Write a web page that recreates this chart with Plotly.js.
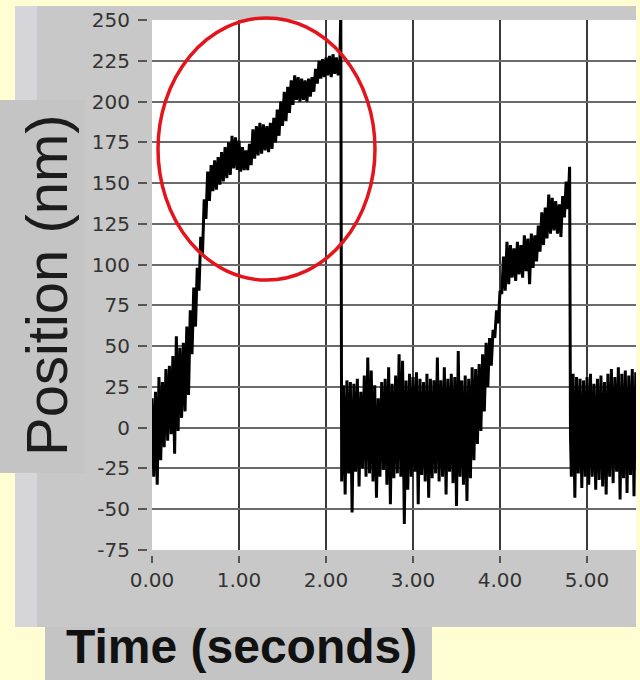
<!DOCTYPE html>
<html><head><meta charset="utf-8">
<script src="https://cdn.plot.ly/plotly-3.0.1.min.js"></script>
<style>html,body{margin:0;padding:0;background:#FFFDD2;}#chart{width:640px;height:680px;}</style>
</head><body><div id="chart"></div>
<script>
// ---- data (time in seconds, position in nm) ----
const time1 = [0.00,0.02,0.04,0.06,0.08,0.10,0.12,0.14,0.16,0.18,
0.20,0.22,0.24,0.26,0.28,0.30,0.32,0.34,0.36,0.38,
0.40,0.42,0.44,0.46,0.48,0.50,0.52,0.54,0.56,0.58,
0.60,0.62,0.64,0.66,0.68,0.70,0.72,0.74,0.76,0.78,
0.80,0.82,0.84,0.86,0.88,0.90,0.92,0.94,0.96,0.98,
1.00,1.02,1.04,1.06,1.08,1.10,1.12,1.14,1.16,1.18,
1.20,1.22,1.24,1.26,1.28,1.30,1.32,1.34,1.36,1.38,
1.40,1.42,1.44,1.46,1.48,1.50,1.52,1.54,1.56,1.58,
1.60,1.62,1.64,1.66,1.68,1.70,1.72,1.74,1.76,1.78,
1.80,1.82,1.84,1.86,1.88,1.90,1.92,1.94,1.96,1.98,
2.00,2.02,2.04,2.06,2.08,2.10,2.12,2.14,2.16,2.17];
const pos1 = [18,-30,22,-35,31,-20,28,-12,36,-8,
38,-4,44,-16,56,-2,49,6,52,10,
62,20,72,45,86,62,98,84,117,106,
140,128,157,139,161,145,164,146,166,149,
169,151,172,153,175,155,179,159,178,158,
176,157,172,158,170,158,174,161,183,165,
185,167,187,168,186,170,185,169,187,171,
190,175,195,179,200,185,206,188,209,193,
213,198,216,201,215,200,214,201,213,200,
214,203,215,206,220,211,225,214,226,215,
227,216,228,215,229,217,227,216,226,256];

const time2 = [2.18,2.20,2.22,2.24,2.26,2.28,2.30,2.32,2.34,2.36,
2.38,2.40,2.42,2.44,2.46,2.48,2.50,2.52,2.54,2.56,
2.58,2.60,2.62,2.64,2.66,2.68,2.70,2.72,2.74,2.76,
2.78,2.80,2.82,2.84,2.86,2.88,2.90,2.92,2.94,2.96,
2.98,3.00,3.02,3.04,3.06,3.08,3.10,3.12,3.14,3.16,
3.18,3.20,3.22,3.24,3.26,3.28,3.30,3.32,3.34,3.36,
3.38,3.40,3.42,3.44,3.46,3.48,3.50,3.52,3.54,3.56,
3.58,3.60,3.62,3.64,3.66,3.68,3.70,3.72,3.74,3.76,
3.78,3.80,3.82,3.84,3.86,3.88,3.90,3.92,3.94,3.96,
3.98,4.00,4.02,4.04,4.06,4.08,4.10,4.12,4.14,4.16,
4.18,4.20,4.22,4.24,4.26,4.28,4.30,4.32,4.34,4.36,
4.38,4.40,4.42,4.44,4.46,4.48,4.50,4.52,4.54,4.56,
4.58,4.60,4.62,4.64,4.66,4.68,4.70,4.72,4.74,4.76,
4.78,4.80];
const pos2 = [-33,26,-41,29,-28,28,-52,27,-27,30,
-36,22,-25,32,-30,43,-28,35,-33,26,
-43,18,-30,28,-26,30,-35,37,-47,27,
-31,32,-28,45,-30,41,-59,29,-38,33,
-30,31,-27,34,-47,30,-29,28,-33,33,
-43,30,-31,29,-28,43,-33,29,-30,37,
-41,30,-27,33,-34,31,-48,47,-30,29,
-35,32,-45,30,-31,37,-20,36,-10,39,
-2,45,10,52,25,55,38,60,55,72,
64,84,82,105,84,114,88,112,92,110,
90,114,94,112,92,118,96,116,88,119,
98,118,102,124,108,132,112,135,116,143,
119,141,121,139,119,137,117,142,129,151,
134,160];

const time3 = [4.81,4.82,4.84,4.86,4.88,4.90,4.92,4.94,4.96,4.98,
5.00,5.02,5.04,5.06,5.08,5.10,5.12,5.14,5.16,5.18,
5.20,5.22,5.24,5.26,5.28,5.30,5.32,5.34,5.36,5.38,
5.40,5.42,5.44,5.46,5.48,5.50,5.52,5.54,5.56];
const pos3 = [-5,-30,33,-43,31,-28,30,-37,29,-30,
31,-35,33,-30,27,-38,30,-32,32,-36,
28,-41,33,-30,36,-34,31,-27,37,-44,
33,-31,35,-40,32,-29,36,-42,34];

const xTickVals = [0,1,2,3,4,5];
const xTickText = ['0.00','1.00','2.00','3.00','4.00','5.00'];
const yTickVals = [-75,-50,-25,0,25,50,75,100,125,150,175,200,225,250];
const yTickText = ['-75','-50','-25','0','25','50','75','100','125','150','175','200','225','250'];
const yTitle = 'Position (nm)';
const xTitle = 'Time (seconds)';

// ---- layout helpers (pixel -> paper) ----
const W = 640, H = 680;
const px = v => v / W;
const py = v => 1 - v / H;

const trace = {
  type: 'scatter', mode: 'lines',
  x: time1.concat(time2, time3),
  y: pos1.concat(pos2, pos3),
  line: {color: '#000000', width: 3},
  hoverinfo: 'skip', cliponaxis: true
};

function rect(x0, y0, x1, y1, color) {
  return {type: 'rect', xref: 'paper', yref: 'paper', x0: px(x0), x1: px(x1), y0: py(y1), y1: py(y0),
          fillcolor: color, line: {width: 0}, layer: 'below'};
}

const layout = {
  width: W, height: H,
  margin: {l: 0, r: 0, t: 0, b: 0},
  paper_bgcolor: '#FFFDD2', plot_bgcolor: '#ffffff',
  showlegend: false,
  xaxis: {
    domain: [px(152), px(636)], range: [0, 5.563],
    anchor: 'free', position: py(555),
    tickmode: 'array', tickvals: xTickVals, ticktext: xTickText,
    ticks: 'outside', ticklen: 7, tickwidth: 2, tickcolor: '#555',
    showgrid: true, gridcolor: '#3a3a3a', gridwidth: 2.5,
    zeroline: false, showline: false,
    tickfont: {family: 'DejaVu Sans', size: 20, color: '#333'},
    fixedrange: true
  },
  yaxis: {
    domain: [py(550), py(20)], range: [-75, 250],
    anchor: 'free', position: px(147),
    tickmode: 'array', tickvals: yTickVals, ticktext: yTickText,
    ticks: 'outside', ticklen: 9, tickwidth: 2, tickcolor: '#555',
    showgrid: true, gridcolor: '#6a6a6a', gridwidth: 2,
    zeroline: false, showline: false,
    tickfont: {family: 'DejaVu Sans', size: 20, color: '#333'},
    ticklabelstandoff: 4,
    fixedrange: true
  },
  shapes: [
    rect(15, 6, 636, 627, '#C8C8C8'),
    rect(15, 6, 37, 627, '#D6D6DA'),
    rect(0, 100, 85, 473, '#C4C4C4'),
    rect(45, 627, 432, 680, '#C4C4C4'),
    rect(152, 20, 636, 550, '#FFFFFF'),
    {type: 'circle', xref: 'paper', yref: 'paper', x0: px(158), x1: px(375), y0: py(280), y1: py(18),
     line: {color: '#E4141C', width: 3.5}, fillcolor: 'rgba(0,0,0,0)', layer: 'above'}
  ],
  annotations: [
    {text: yTitle, xref: 'paper', yref: 'paper', x: px(46), y: py(285), textangle: -90,
     showarrow: false, xanchor: 'center', yanchor: 'middle',
     font: {family: 'Liberation Sans, Arial, sans-serif', size: 58, color: '#1c1c1c'}},
    {text: '<b>' + xTitle + '</b>', xref: 'paper', yref: 'paper', x: px(241), y: py(646),
     showarrow: false, xanchor: 'center', yanchor: 'middle',
     font: {family: 'Liberation Sans, Arial, sans-serif', size: 48, color: '#111'}}
  ]
};

Plotly.newPlot('chart', [trace], layout, {staticPlot: true, displayModeBar: false});
</script>
</body></html>
